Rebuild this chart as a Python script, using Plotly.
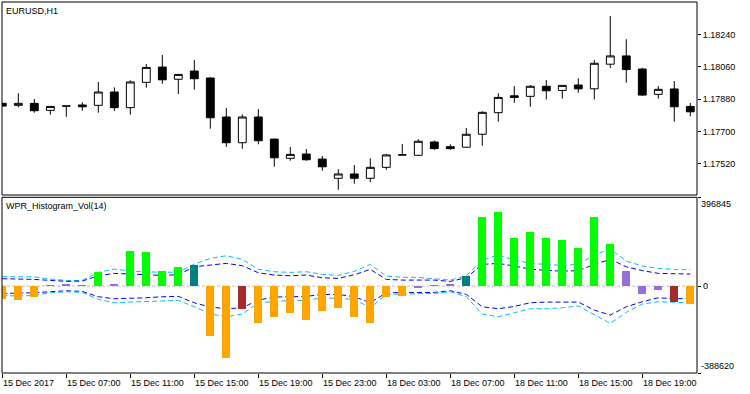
import plotly.graph_objects as go

# ---- categories (hourly bars) ----
bar_times = [f"15 Dec {h:02d}:00" for h in range(3, 24)] + [f"18 Dec {h:02d}:00" for h in range(0, 23)]
tick_times = ["15 Dec 03:00", "15 Dec 07:00", "15 Dec 11:00", "15 Dec 15:00", "15 Dec 19:00",
              "15 Dec 23:00", "18 Dec 03:00", "18 Dec 07:00", "18 Dec 11:00", "18 Dec 15:00",
              "18 Dec 19:00"]
tick_labels = ["15 Dec 2017", "15 Dec 07:00", "15 Dec 11:00", "15 Dec 15:00", "15 Dec 19:00",
               "15 Dec 23:00", "18 Dec 03:00", "18 Dec 07:00", "18 Dec 11:00", "18 Dec 15:00",
               "18 Dec 19:00"]

# ---- EURUSD H1 candles ----
open_ = [1.17856, 1.17845, 1.17856, 1.17817, 1.17841, 1.17847, 1.17845, 1.17919, 1.17832, 1.17973, 1.18058,
         1.17990, 1.18036, 1.17997, 1.17780, 1.17637, 1.17780, 1.17657, 1.17550, 1.17574, 1.17546, 1.17439,
         1.17463, 1.17439, 1.17500, 1.17569, 1.17567, 1.17641, 1.17615, 1.17612, 1.17684, 1.17804, 1.17898,
         1.17895, 1.17951, 1.17928, 1.17958, 1.17937, 1.18074, 1.18120, 1.18047, 1.17906, 1.17936, 1.17839]
high_ = [1.17860, 1.17912, 1.17880, 1.17841, 1.17843, 1.17862, 1.17975, 1.17945, 1.17984, 1.18075, 1.18125,
         1.18019, 1.18097, 1.18002, 1.17830, 1.17795, 1.17824, 1.17660, 1.17613, 1.17602, 1.17563, 1.17490,
         1.17513, 1.17550, 1.17574, 1.17630, 1.17656, 1.17649, 1.17628, 1.17719, 1.17812, 1.17912, 1.17952,
         1.17958, 1.17986, 1.17958, 1.17995, 1.18097, 1.18342, 1.18213, 1.18053, 1.17952, 1.17980, 1.17858]
low_ = [1.17838, 1.17834, 1.17804, 1.17793, 1.17781, 1.17815, 1.17804, 1.17813, 1.17793, 1.17943, 1.17965,
        1.17908, 1.17932, 1.17715, 1.17614, 1.17603, 1.17628, 1.17503, 1.17537, 1.17537, 1.17481, 1.17375,
        1.17409, 1.17418, 1.17486, 1.17567, 1.17565, 1.17598, 1.17598, 1.17610, 1.17620, 1.17754, 1.17859,
        1.17837, 1.17878, 1.17882, 1.17915, 1.17878, 1.18054, 1.17971, 1.17898, 1.17882, 1.17754, 1.17784]
close_ = [1.17841, 1.17856, 1.17815, 1.17839, 1.17841, 1.17837, 1.17919, 1.17832, 1.17975, 1.18056, 1.17987,
          1.18017, 1.17993, 1.17776, 1.17637, 1.17780, 1.17648, 1.17553, 1.17572, 1.17542, 1.17503, 1.17463,
          1.17439, 1.17500, 1.17569, 1.17569, 1.17645, 1.17604, 1.17604, 1.17684, 1.17806, 1.17889, 1.17889,
          1.17951, 1.17926, 1.17956, 1.17937, 1.18079, 1.18120, 1.18044, 1.17902, 1.17934, 1.17837, 1.17809]
price_ticks = [1.17520, 1.17700, 1.17880, 1.18060, 1.18240]

# ---- WPR_Histogram_Vol(14) ----
hist = [-58000, -64000, -49000, 1500, 3500, 3000, 61000, 3500, 155000, 151000, 66000, 83000, 92000,
        -225000, -324000, -104000, -167000, -140000, -122000, -154000, -113000, -100000, -140000, -167000,
        -48000, -44000, -12000, 500, 4000, 45000, 307000, 330000, 213000, 240000, 213000, 204000, 168000,
        307000, 186000, 66000, -36000, -18000, -72000, -81000]
hist_state = ["dn", "dn", "dn", "flat", "flat", "flat", "up", "flat", "up", "up", "up", "up", "upw",
              "dn", "dn", "dnw", "dn", "dn", "dn", "dn", "dn", "dn", "dn", "dn",
              "dn", "dn", "flat", "flat", "flat", "upw", "up", "up", "up", "up", "up", "up", "up",
              "up", "up", "flat", "flat", "flat", "dnw", "dn"]
state_colors = {"up": "#00FF00", "upw": "#008080", "dn": "#FFA500", "dnw": "#A52A2A", "flat": "#9370DB"}

upper_outer = [41700, 43200, 41700, 31300, 25300, 25300, 61100, 76000, 67100, 64100, 61100, 62600,
               98400, 123800, 135700, 119300, 74600, 64100, 61100, 64100, 52200, 47700, 65600, 96900,
               44700, 38800, 38800, 32800, 26800, 46200, 116300, 138700, 116300, 101400, 96900, 92400,
               96900, 138700, 165500, 111800, 89500, 79200, 74600, 74600]
upper_inner = [32800, 32800, 29800, 25300, 20900, 22400, 46200, 56700, 53700, 47700, 47700, 50700,
               86500, 93900, 101400, 91000, 59600, 49200, 46200, 49200, 37300, 34300, 50700, 74600,
               29800, 26800, 26800, 26800, 20900, 37300, 96900, 101400, 89500, 76000, 70100, 67100,
               68600, 97100, 119400, 86300, 69300, 56800, 55200, 53700]
lower_inner = [-32800, -32800, -29800, -25300, -20900, -23900, -47700, -56700, -55200, -52200, -47700, -46200,
               -74600, -93900, -101400, -96900, -62600, -49200, -47700, -46200, -37300, -37300, -47700, -74600,
               -29800, -29800, -28300, -28300, -20900, -37300, -92400, -101400, -91000, -74600, -71600, -70100,
               -71600, -107400, -129700, -92600, -70200, -52300, -56700, -55200]
lower_outer = [-41700, -44700, -41700, -29800, -25300, -28300, -59600, -74600, -71600, -68600, -67100, -64100,
               -92400, -125200, -137200, -125200, -74600, -68600, -64100, -64100, -52200, -55200, -59600, -96900,
               -37300, -35800, -35800, -32800, -25300, -47700, -125200, -137200, -119300, -101400, -101400, -96900,
               -89000, -129700, -166800, -117600, -80500, -70200, -73100, -74600]
ind_max = 396845
ind_min = -388620

# ---- build ----
xi = list(range(len(bar_times)))
tick_idx = [bar_times.index(t) for t in tick_times]
FONT = "Liberation Sans, Arial, sans-serif"

fig = go.Figure()
fig.add_trace(go.Candlestick(
    x=xi, open=open_, high=high_, low=low_, close=close_, xaxis="x", yaxis="y",
    increasing=dict(line=dict(color="black", width=1), fillcolor="white"),
    decreasing=dict(line=dict(color="black", width=1), fillcolor="black"),
    whiskerwidth=0, showlegend=False, hoverinfo="skip"))

for vals, col in [(upper_outer, "#00BFFF"), (upper_inner, "#0000FF"),
                  (lower_inner, "#0000FF"), (lower_outer, "#00BFFF")]:
    fig.add_trace(go.Scatter(x=xi, y=vals, mode="lines", xaxis="x", yaxis="y2",
                             line=dict(color=col, width=1, dash="5px,3px"),
                             showlegend=False, hoverinfo="skip"))

fig.add_trace(go.Bar(x=xi, y=hist, width=0.5, xaxis="x", yaxis="y3",
                     marker=dict(color=[state_colors[s] for s in hist_state], line=dict(width=0)),
                     showlegend=False, hoverinfo="skip"))

W, H = 750, 394
ml, mr, mt, mb = 2, 53, 2, 21
ph = H - mt - mb
top_dom = [(H - mb - 195) / ph, 1.0]
bot_dom = [0.0, (H - mb - 197.3) / ph]

annotations = [
    dict(text="EURUSD,H1", x=0, y=1, xref="paper", yref="y domain", xanchor="left", yanchor="top",
         xshift=2, yshift=-2, showarrow=False, font=dict(family=FONT, size=9, color="black")),
    dict(text="WPR_Histogram_Vol(14)", x=0, y=1, xref="paper", yref="y2 domain", xanchor="left",
         yanchor="top", xshift=2, yshift=-2, showarrow=False, font=dict(family=FONT, size=9, color="black")),
    dict(text=str(ind_max), x=1, y=ind_max, xref="paper", yref="y2", xanchor="left", yanchor="top",
         xshift=2, yshift=0, showarrow=False, font=dict(family=FONT, size=9, color="black")),
    dict(text="0", x=1, y=0, xref="paper", yref="y2", xanchor="left", yanchor="middle",
         xshift=4, showarrow=False, font=dict(family=FONT, size=9, color="black")),
    dict(text=str(ind_min), x=1, y=ind_min, xref="paper", yref="y2", xanchor="left", yanchor="bottom",
         xshift=2, yshift=0, showarrow=False, font=dict(family=FONT, size=9, color="black")),
]
for i, lab in zip(tick_idx, tick_labels):
    annotations.append(dict(text=lab, x=i, y=0, xref="x", yref="paper", xanchor="left", yanchor="top",
                            xshift=-1, yshift=-3, showarrow=False,
                            font=dict(family=FONT, size=9, color="black")))

shapes = [
    dict(type="line", xref="paper", yref="y2", x0=0, x1=1, y0=0, y1=0, layer="below",
         line=dict(color="#C0C0C0", width=1, dash="3px,2px")),
    dict(type="rect", xref="paper", yref="y domain", x0=0, x1=1, y0=0, y1=1,
         line=dict(color="black", width=1)),
    dict(type="rect", xref="paper", yref="y2 domain", x0=0, x1=1, y0=0, y1=1,
         line=dict(color="black", width=1)),
]

fig.update_layout(
    width=W, height=H, margin=dict(l=ml, r=mr, t=mt, b=mb, pad=0),
    paper_bgcolor="white", plot_bgcolor="white",
    font=dict(family=FONT, size=9, color="black"),
    showlegend=False, bargap=0,
    xaxis=dict(domain=[0, 1], range=[-0.019, 43.42], anchor="y2", showgrid=False, zeroline=False,
               showline=False, ticks="outside", ticklen=4, tickcolor="black", tickwidth=1,
               tickvals=tick_idx, showticklabels=False, rangeslider=dict(visible=False), fixedrange=True),
    yaxis=dict(domain=top_dom, range=[1.17346, 1.18420], side="right", anchor="x", showgrid=False,
               zeroline=False, showline=False, ticks="outside", ticklen=3, tickcolor="black",
               tickvals=price_ticks, tickformat=".5f", tickfont=dict(family=FONT, size=9)),
    yaxis2=dict(domain=bot_dom, range=[ind_min, ind_max], side="right", anchor="x", showgrid=False,
                zeroline=False, showline=False, ticks="outside", ticklen=3, tickcolor="black",
                tickvals=[ind_max, 0, ind_min], showticklabels=False),
    yaxis3=dict(overlaying="y2", range=[ind_min, ind_max], visible=False, anchor="x", side="right"),
    annotations=annotations, shapes=shapes,
)

fig.write_html("out.html", config={"displayModeBar": False},
               post_script="document.body.style.margin='0';document.body.style.padding='0';")
